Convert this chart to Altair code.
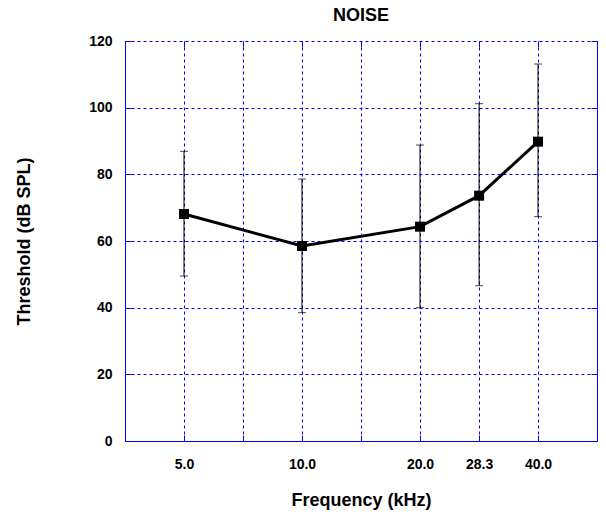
import json
import altair as alt
import pandas as pd

# ---- data ----
freq_khz = [5.0, 10.0, 20.0, 28.3, 40.0]
threshold_db = [68.1, 58.5, 64.3, 73.6, 89.8]
err_low = [49.5, 38.5, 40.0, 46.6, 67.3]
err_high = [86.9, 78.6, 88.8, 101.2, 113.1]

x_grid_values = [3.5355, 5.0, 7.0711, 10.0, 14.1421, 20.0, 28.3, 40.0, 56.5685]
x_tick_labels = ["5.0", "10.0", "20.0", "28.3", "40.0"]
x_domain = [3.5355, 56.5685]
y_tick_values = [0, 20, 40, 60, 80, 100, 120]
y_domain = [0, 120]

df = pd.DataFrame({"freq": freq_khz, "thr": threshold_db, "lo": err_low, "hi": err_high})

FONT = "Liberation Sans"
BLUE = "#0000ff"
INWARD = alt.ExprRef(expr="-6")  # inward tick marks

label_expr = (
    "indexof(" + json.dumps(x_tick_labels) + ", format(datum.value, '.1f')) >= 0"
    " ? format(datum.value, '.1f') : ''"
)

xscale = alt.Scale(type="log", domain=x_domain, nice=False)
yscale = alt.Scale(domain=y_domain, nice=False, zero=True)

x_axis = alt.Axis(
    values=x_grid_values, labelExpr=label_expr, title="Frequency (kHz)",
    grid=True, gridColor=BLUE, gridDash=[3, 3], gridWidth=1, gridOpacity=1,
    domainColor=BLUE, domainWidth=1,
    ticks=True, tickSize=INWARD, tickColor=BLUE, tickWidth=1,
    labelPadding=22, titlePadding=20, labelOverlap=False, labelFlush=False,
    labelFont=FONT, titleFont=FONT, labelFontSize=14, titleFontSize=18,
    labelFontWeight="bold", titleFontWeight="bold",
    labelColor="black", titleColor="black",
)
x_axis_top = alt.Axis(
    orient="top", values=x_grid_values, labels=False, grid=False, title=None,
    domain=False, ticks=True, tickSize=INWARD, tickColor=BLUE, tickWidth=1,
)
y_axis_left = alt.Axis(
    values=y_tick_values, title="Threshold (dB SPL)",
    grid=True, gridColor=BLUE, gridDash=[3, 3], gridWidth=1, gridOpacity=1,
    domainColor=BLUE, domainWidth=1,
    ticks=True, tickSize=INWARD, tickColor=BLUE, tickWidth=1,
    labelPadding=19, titlePadding=55, labelOverlap=False, labelFlush=False,
    labelFont=FONT, titleFont=FONT, labelFontSize=14, titleFontSize=18,
    labelFontWeight="bold", titleFontWeight="bold",
    labelColor="black", titleColor="black",
)
y_axis_right = alt.Axis(
    orient="right", values=y_tick_values, labels=False, grid=False, title=None,
    domainColor=BLUE, domainWidth=1,
    ticks=True, tickSize=INWARD, tickColor=BLUE, tickWidth=1,
)

base = alt.Chart(df)

line = base.mark_line(color="black", strokeWidth=3).encode(
    x=alt.X("freq:Q", scale=xscale, axis=x_axis),
    y=alt.Y("thr:Q", scale=yscale, axis=y_axis_left),
)
rules = base.mark_rule(color="black", strokeWidth=1).encode(
    x=alt.X("freq:Q", scale=xscale, axis=x_axis_top),
    y=alt.Y("lo:Q", scale=yscale, axis=y_axis_right),
    y2="hi:Q",
)
cap_lo = base.mark_tick(orient="horizontal", size=8, thickness=1, color="black").encode(
    x=alt.X("freq:Q", scale=xscale, axis=None),
    y=alt.Y("lo:Q", scale=yscale, axis=None),
)
cap_hi = base.mark_tick(orient="horizontal", size=8, thickness=1, color="black").encode(
    x=alt.X("freq:Q", scale=xscale, axis=None),
    y=alt.Y("hi:Q", scale=yscale, axis=None),
)
squares = base.mark_square(size=100, color="black", opacity=1, filled=True).encode(
    x=alt.X("freq:Q", scale=xscale, axis=None),
    y=alt.Y("thr:Q", scale=yscale, axis=None),
)

chart = (
    alt.layer(line, rules, cap_lo, cap_hi, squares)
    .resolve_axis(x="independent", y="independent")
    .properties(
        width=472, height=400,
        autosize=alt.AutoSizeParams(type="none"),
        padding={"left": 117, "top": 33, "right": 1, "bottom": 70},
        title=alt.Title("NOISE", font=FONT, fontSize=18, fontWeight="bold",
                        color="black", offset=9, frame="group", anchor="middle"),
        background="white",
    )
    .configure_view(stroke=None)
)

chart.save("out.html", embed_options={"renderer": "svg", "actions": False})
